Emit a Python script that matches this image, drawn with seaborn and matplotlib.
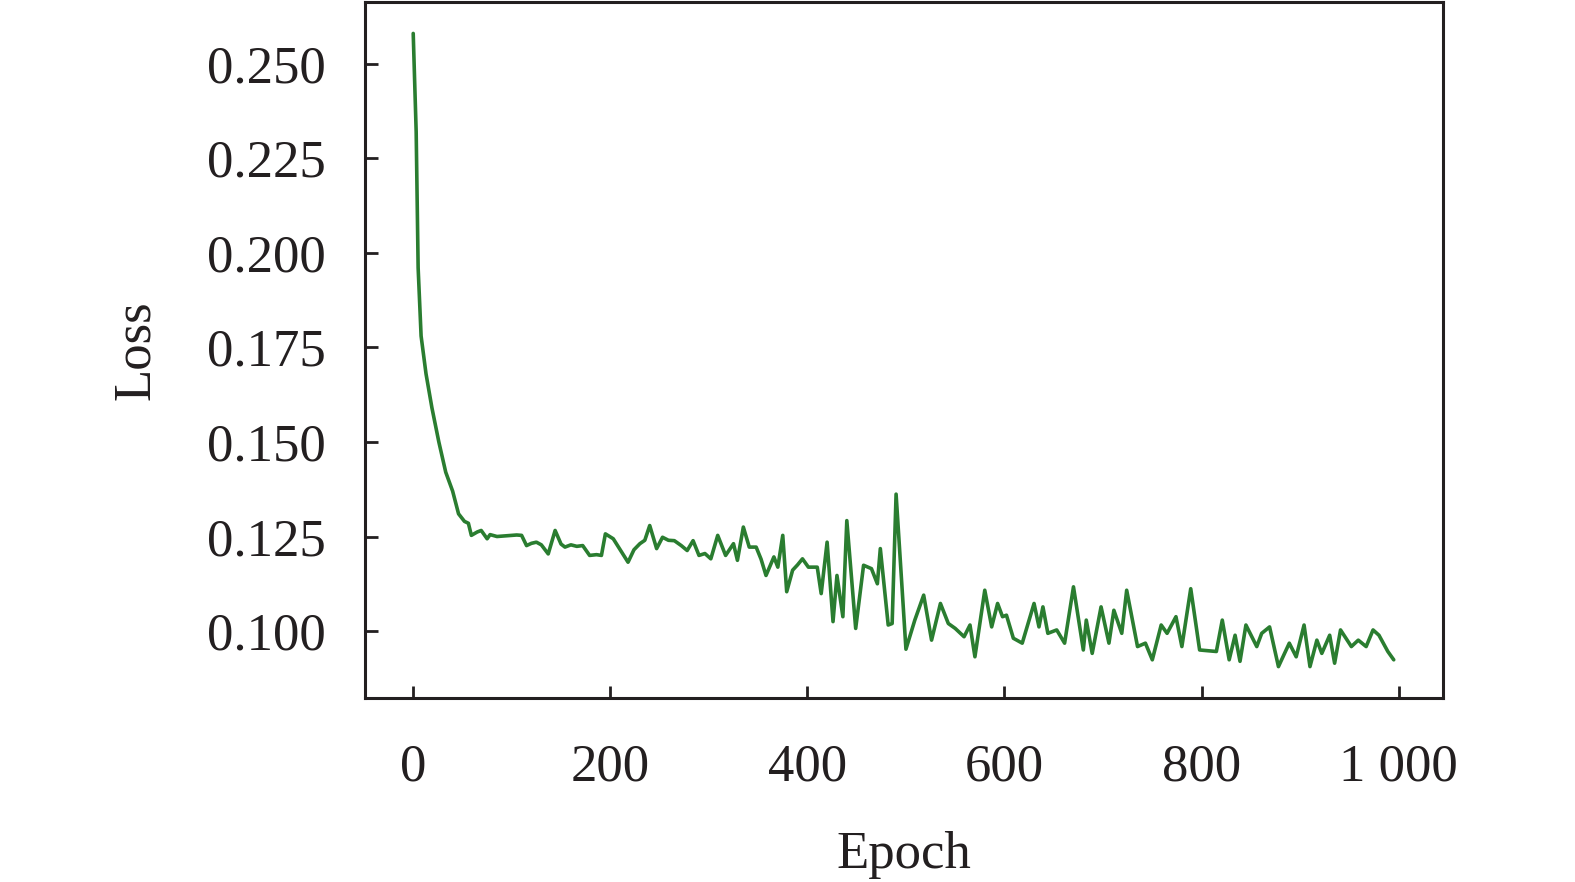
import pandas as pd
import matplotlib.pyplot as plt
import seaborn as sns

epochs = [0, 3, 5, 8, 13, 19, 26, 33, 40, 46, 52, 56, 59, 65, 69, 75, 78, 85, 95, 105,
          110, 115, 120, 125, 130, 137, 144, 150, 154, 160, 166, 172, 179, 186, 191, 195,
          203, 210, 218, 224, 230, 235, 240, 247, 253, 259, 265, 272, 278, 284, 290, 296,
          302, 309, 317, 325, 329, 335, 341, 348, 353, 358, 366, 370, 375, 379, 385, 390,
          395, 401, 410, 414, 420, 426, 430, 436, 440, 449, 457, 465, 471, 474, 482, 486,
          490, 500, 509, 518, 526, 535, 543, 550, 559, 565, 570, 580, 587, 593, 598, 602,
          609, 618, 630, 635, 639, 644, 653, 661, 670, 680, 683, 689, 698, 706, 711, 719,
          724, 735, 743, 750, 759, 765, 774, 780, 789, 798, 815, 821, 828, 834, 839, 845,
          856, 861, 869, 878, 889, 896, 904, 910, 917, 922, 930, 935, 941, 952, 959, 967,
          974, 980, 989, 995]

loss = [0.258, 0.232, 0.196, 0.178, 0.168, 0.159, 0.150, 0.142, 0.137, 0.131, 0.129, 0.1285,
        0.1253, 0.1262, 0.1266, 0.1244, 0.1255, 0.1250, 0.1252, 0.1254, 0.1253, 0.1226, 0.1232,
        0.1235, 0.1228, 0.1204, 0.1266, 0.1230, 0.1222, 0.1228, 0.1224, 0.1226, 0.1200, 0.1202,
        0.1200, 0.1257, 0.1244, 0.1215, 0.1182, 0.1215, 0.1231, 0.1240, 0.1279, 0.1218, 0.1248,
        0.1240, 0.1239, 0.1226, 0.1213, 0.1239, 0.1200, 0.1205, 0.1191, 0.1253, 0.1200, 0.1231,
        0.1187, 0.1275, 0.1222, 0.1222, 0.1190, 0.1147, 0.1196, 0.1169, 0.1253, 0.1104, 0.1161,
        0.1175, 0.1191, 0.1169, 0.1169, 0.1099, 0.1235, 0.1025, 0.1147, 0.1038, 0.1292, 0.1007,
        0.1174, 0.1165, 0.1125, 0.1218, 0.1016, 0.1020, 0.1362, 0.0952, 0.1029, 0.1095, 0.0976,
        0.1073, 0.1020, 0.1007, 0.0985, 0.1016, 0.0932, 0.1108, 0.1011, 0.1073, 0.1038, 0.1042,
        0.0981, 0.0968, 0.1073, 0.1011, 0.1064, 0.0994, 0.1003, 0.0968, 0.1117, 0.0950, 0.1029,
        0.0941, 0.1064, 0.0968, 0.1055, 0.0994, 0.1108, 0.0959, 0.0968, 0.0924, 0.1016, 0.0994,
        0.1038, 0.0959, 0.1112, 0.0950, 0.0946, 0.1029, 0.0924, 0.0989, 0.0920, 0.1016, 0.0959,
        0.0994, 0.1011, 0.0906, 0.0968, 0.0932, 0.1016, 0.0906, 0.0976, 0.0941, 0.0989, 0.0915,
        0.1003, 0.0959, 0.0976, 0.0959, 0.1003, 0.0989, 0.0946, 0.0924]

xticks = [0, 200, 400, 600, 800, 1000]
xtick_labels = ["0", "200", "400", "600", "800", "1 000"]
yticks = [0.100, 0.125, 0.150, 0.175, 0.200, 0.225, 0.250]

df = pd.DataFrame({"Epoch": epochs, "Loss": loss})

sns.set_style("ticks")
plt.rcParams["font.family"] = ["Liberation Serif", "DejaVu Serif"]

fig = plt.figure(figsize=(15.75, 8.82), dpi=100)
ax = fig.add_axes([0.2317, 0.2086, 0.6845, 0.7895])

sns.lineplot(data=df, x="Epoch", y="Loss", color="#2a7d30", linewidth=2.6, ax=ax)

ax.set_xlim(-49, 1045)
ax.set_ylim(0.0823, 0.2664)
ax.set_xticks(xticks)
ax.set_xticklabels(xtick_labels)
ax.set_yticks(yticks)
ax.set_yticklabels([f"{v:.3f}" for v in yticks])

ax.tick_params(axis="both", direction="in", length=9, width=2, labelsize=38,
               colors="#231f20")
ax.tick_params(axis="x", pad=33)
ax.tick_params(axis="y", pad=28)
for sp in ax.spines.values():
    sp.set_visible(True)
    sp.set_linewidth(2.2)
    sp.set_color("#231f20")

ax.set_xlabel("Epoch", fontsize=38, labelpad=28, color="#231f20")
ax.set_ylabel("Loss", fontsize=38, labelpad=34, color="#231f20")

fig.savefig("out.png", dpi=100)
